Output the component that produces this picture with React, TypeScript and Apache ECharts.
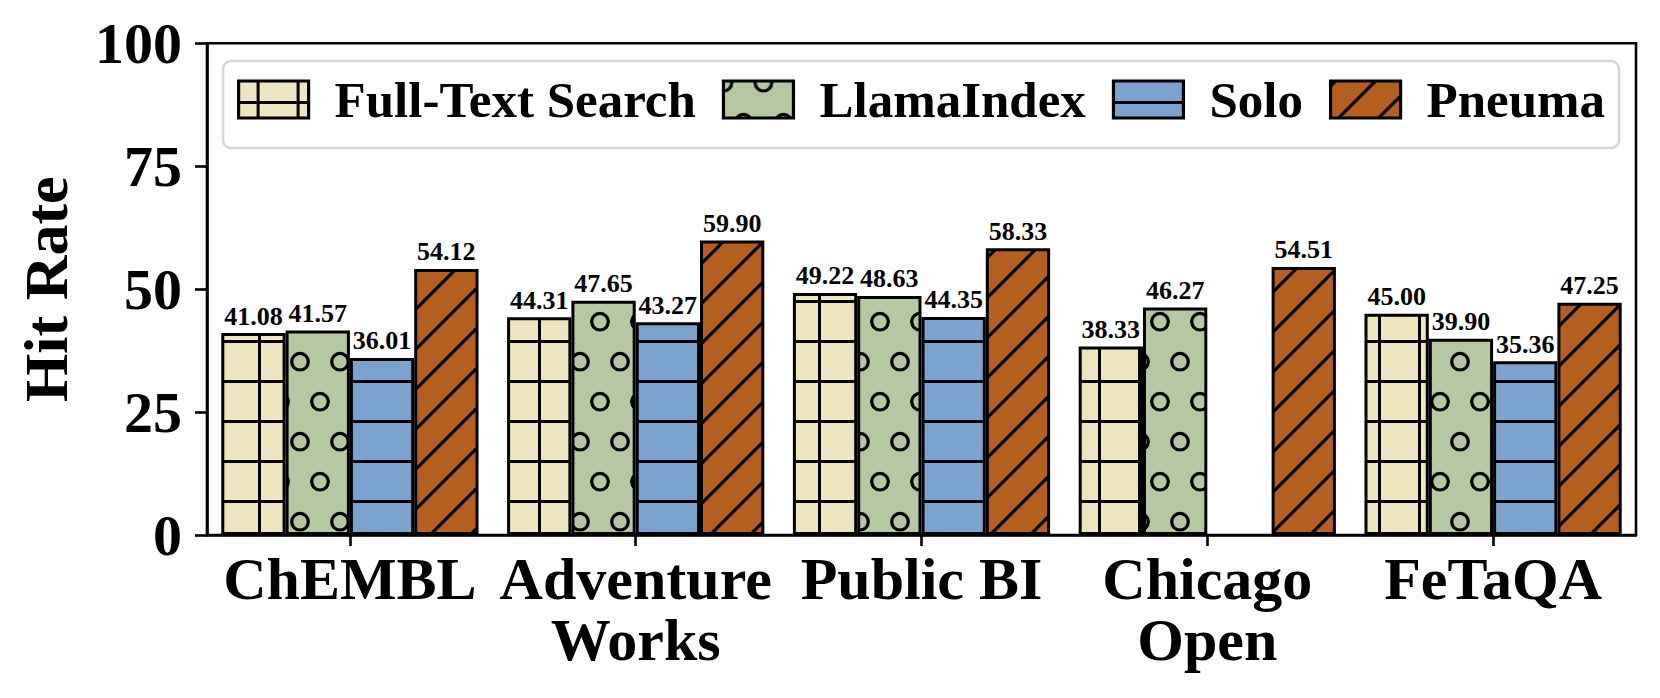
import React, { useEffect, useRef } from 'react';
import * as echarts from 'echarts';

const categories = ['ChEMBL', 'Adventure\nWorks', 'Public BI', 'Chicago\nOpen', 'FeTaQA'];
const seriesNames = ['Full-Text Search', 'LlamaIndex', 'Solo', 'Pneuma'];
const fullTextSearch = [41.08, 44.31, 49.22, 38.33, 45.0];
const llamaIndex = [41.57, 47.65, 48.63, 46.27, 39.9];
const solo: (number | null)[] = [36.01, 43.27, 44.35, null, 35.36];
const pneuma = [54.12, 59.9, 58.33, 54.51, 47.25];
const yTicks = [0, 25, 50, 75, 100];

const colors = ['#EDE4C0', '#B6C8A2', '#7CA3CD', '#B45F20'];
const FONT = '"Liberation Serif", "Times New Roman", Times, serif';
const LW = 3.0;

function tile(w: number, h: number, bg: string, draw: (c: CanvasRenderingContext2D) => void) {
  const cv = document.createElement('canvas');
  cv.width = w;
  cv.height = h;
  const ctx = cv.getContext('2d')!;
  ctx.fillStyle = bg;
  ctx.fillRect(0, 0, w, h);
  ctx.strokeStyle = '#000';
  ctx.lineWidth = LW;
  draw(ctx);
  return cv;
}

function makePatterns() {
  const grid = tile(40, 40, colors[0], (c) => {
    c.beginPath();
    c.moveTo(0, 21.5); c.lineTo(40, 21.5);
    c.moveTo(19.5, 0); c.lineTo(19.5, 40);
    c.stroke();
  });
  const circles = tile(40, 80, colors[1], (c) => {
    const r = 8.3;
    c.lineWidth = 3.2;
    const centers = [[20, 41.7], [0, 1.7], [40, 1.7], [0, 81.7], [40, 81.7]];
    centers.forEach(([x, y]) => {
      c.beginPath();
      c.arc(x, y, r, 0, Math.PI * 2);
      c.stroke();
    });
  });
  const hlines = tile(40, 40, colors[2], (c) => {
    c.beginPath();
    c.moveTo(0, 21.5); c.lineTo(40, 21.5);
    c.stroke();
  });
  const diag = tile(40, 40, colors[3], (c) => {
    c.lineWidth = 3.2;
    c.beginPath();
    for (let k = -1; k <= 3; k++) {
      const s = 5 + 40 * k;
      c.moveTo(s + 10, -10);
      c.lineTo(s - 60, 60);
    }
    c.stroke();
  });
  return [
    { image: grid, repeat: 'repeat', imageWidth: 40, imageHeight: 40 },
    { image: circles, repeat: 'repeat', imageWidth: 40, imageHeight: 80 },
    { image: hlines, repeat: 'repeat', imageWidth: 40, imageHeight: 40 },
    { image: diag, repeat: 'repeat', imageWidth: 40, imageHeight: 40 },
  ];
}

export default function App() {
  const ref = useRef<HTMLDivElement>(null);
  useEffect(() => {
    document.body.style.margin = '0';
    const chart = echarts.init(ref.current!, null, { renderer: 'svg' });
    const patterns = makePatterns();
    const data = [fullTextSearch, llamaIndex, solo, pneuma];
    const option: any = {
      animation: false,
      backgroundColor: '#fff',
      grid: {
        left: 207,
        top: 43.3,
        width: 1429,
        height: 491.7,
        show: true,
        borderColor: '#000',
        borderWidth: 2.6,
        backgroundColor: 'transparent',
      },
      legend: {
        data: seriesNames,
        left: 223,
        top: 61,
        icon: 'rect',
        itemWidth: 70,
        itemHeight: 37,
        itemGap: 26,
        padding: [13, 14, 23, 14],
        backgroundColor: '#fff',
        borderColor: '#d6d6d6',
        borderWidth: 2.5,
        borderRadius: 8,
        itemStyle: { borderColor: '#000', borderWidth: 3.2 },
        textStyle: {
          fontFamily: FONT,
          fontWeight: 'bold',
          fontSize: 51,
          color: '#000',
          lineHeight: 37,
          padding: [0, 0, 0, 21],
        },
      },
      xAxis: {
        type: 'category',
        data: categories,
        axisLine: { show: true, lineStyle: { color: '#000', width: 2.6 } },
        axisTick: { show: true, alignWithLabel: true, length: 11, lineStyle: { color: '#000', width: 2.6 } },
        axisLabel: {
          fontFamily: FONT,
          fontWeight: 'bold',
          fontSize: 60,
          lineHeight: 61,
          color: '#000',
          margin: 13,
          interval: 0,
          align: 'center',
        },
      },
      yAxis: {
        type: 'value',
        min: yTicks[0],
        max: yTicks[yTicks.length - 1],
        interval: 25,
        name: 'Hit Rate',
        nameLocation: 'middle',
        nameRotate: 90,
        nameGap: 130,
        nameTextStyle: {
          fontFamily: FONT,
          fontWeight: 'bold',
          fontSize: 62,
          lineHeight: 62,
          color: '#000',
        },
        splitLine: { show: false },
        axisLine: { show: true, lineStyle: { color: '#000', width: 2.6 } },
        axisTick: { show: true, length: 12, lineStyle: { color: '#000', width: 2.6 } },
        axisLabel: {
          fontFamily: FONT,
          fontWeight: 'bold',
          fontSize: 58,
          color: '#000',
          margin: 25,
        },
      },
      series: seriesNames.map((name, i) => ({
        name,
        type: 'bar',
        data: data[i].map((v) => (v == null ? '-' : v)),
        barGap: '0%',
        barCategoryGap: '10%',
        itemStyle: {
          color: patterns[i],
          borderColor: '#000',
          borderWidth: 3,
        },
        label: {
          show: true,
          position: 'top',
          distance: 4,
          fontFamily: FONT,
          fontWeight: 'bold',
          fontSize: 26,
          lineHeight: 26,
          color: '#000',
          formatter: (p: any) => (typeof p.value === 'number' ? p.value.toFixed(2) : ''),
        },
      })),
    };
    chart.setOption(option);
    return () => chart.dispose();
  }, []);
  return <div ref={ref} style={{ width: 1660, height: 698 }} />;
}
